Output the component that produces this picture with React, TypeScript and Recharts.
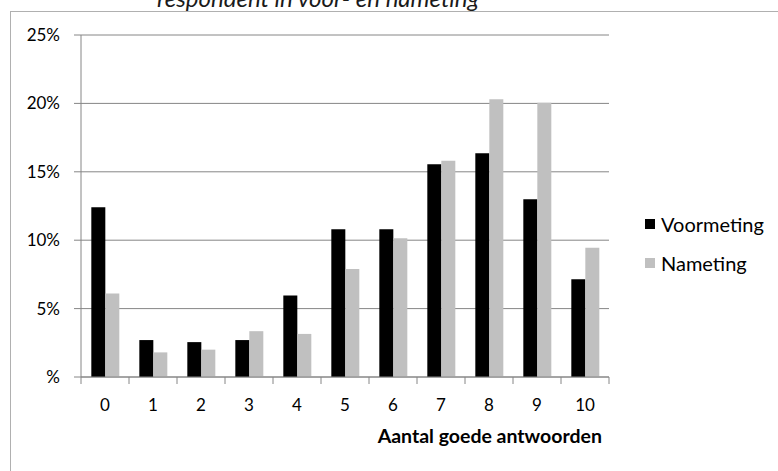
import React from 'react';
import { BarChart, Bar, XAxis, YAxis, CartesianGrid, Legend, Label } from 'recharts';

// Aantal goede antwoorden (0 t/m 10)
const CATEGORIES = ['0', '1', '2', '3', '4', '5', '6', '7', '8', '9', '10'];
// Percentage respondenten per score
const VOORMETING = [12.4, 2.7, 2.55, 2.7, 5.95, 10.8, 10.8, 15.55, 16.35, 13.0, 7.15];
const NAMETING = [6.1, 1.8, 2.0, 3.35, 3.15, 7.9, 10.15, 15.8, 20.3, 20.05, 9.45];
const Y_TICKS = [0, 5, 10, 15, 20, 25];

const SERIES = [
  { key: 'voormeting', name: 'Voormeting', color: '#000000' },
  { key: 'nameting', name: 'Nameting', color: '#c0c0c0' },
];

const FONT = 'Lato, "Open Sans", sans-serif';
const AXIS_GRAY = '#868686';

const data = CATEGORIES.map((c, i) => ({
  score: c,
  voormeting: VOORMETING[i],
  nameting: NAMETING[i],
}));

// category axis with tick marks on the band edges instead of the centres
const CategoryTick = (props: any) => {
  const { x, y, payload, index } = props;
  const half = payload && payload.offset ? payload.offset : 24;
  const last = index === CATEGORIES.length - 1;
  return (
    <g>
      <line x1={x - half} y1={y} x2={x - half} y2={y + 7} stroke={AXIS_GRAY} />
      {last && <line x1={x + half} y1={y} x2={x + half} y2={y + 7} stroke={AXIS_GRAY} />}
      <text x={x} y={y + 28} dy="0.355em" textAnchor="middle" fontFamily={FONT} fontSize={17} fill="#000">
        {payload.value}
      </text>
    </g>
  );
};

const LegendBox = () => (
  <div style={{ fontFamily: FONT, fontSize: 20, color: '#000' }}>
    {SERIES.map((s) => (
      <div key={s.key} style={{ display: 'flex', alignItems: 'center', height: 39 }}>
        <span style={{ width: 10, height: 10, background: s.color, marginRight: 6, display: 'inline-block' }} />
        <span>{s.name}</span>
      </div>
    ))}
  </div>
);

const App: React.FC = () => {
  return (
    <div style={{ position: 'absolute', left: 0, top: 0, width: 778, height: 471, overflow: 'hidden', background: '#fff' }}>
      {/* chart area frame, runs off the right and bottom edge */}
      <div style={{ position: 'absolute', left: 10, top: 11, width: 800, height: 500, border: '1px solid #b0b0b0' }} />
      <div
        style={{
          position: 'absolute',
          left: 157,
          top: -17,
          fontFamily: FONT,
          fontStyle: 'italic',
          fontSize: 24,
          color: '#1a1a1a',
          whiteSpace: 'nowrap',
          lineHeight: '29px',
        }}
      >
        respondent in voor- en nameting
      </div>
      <div style={{ position: 'absolute', left: 0, top: 0 }}>
        <BarChart
          width={778}
          height={471}
          data={data}
          margin={{ top: 35, right: 169, left: 0, bottom: 34 }}
          barCategoryGap="21.5%"
          barGap={0}
        >
          <CartesianGrid horizontal vertical={false} stroke={AXIS_GRAY} />
          <XAxis
            dataKey="score"
            height={60}
            axisLine={{ stroke: AXIS_GRAY }}
            tickLine={false}
            tickSize={0}
            tickMargin={0}
            tick={<CategoryTick />}
            interval={0}
          >
            <Label
              value="Aantal goede antwoorden"
              position="insideBottomRight"
              offset={0}
              content={(p: any) => {
                const vb = p.viewBox || {};
                return (
                  <text
                    x={vb.x + vb.width - 7}
                    y={vb.y + 66}
                    textAnchor="end"
                    fontFamily={FONT}
                    fontWeight="bold"
                    fontSize={19.5}
                    fill="#000"
                  >
                    Aantal goede antwoorden
                  </text>
                );
              }}
            />
          </XAxis>
          <YAxis
            width={81}
            domain={[0, 25]}
            ticks={Y_TICKS}
            interval={0}
            axisLine={{ stroke: AXIS_GRAY }}
            tickLine={{ stroke: AXIS_GRAY }}
            tickSize={7}
            tickMargin={14}
            tick={{ fontFamily: FONT, fontSize: 17, fill: '#000' }}
            tickFormatter={(v: number) => (v === 0 ? '%' : `${v}%`)}
          />
          <Legend
            layout="horizontal"
            verticalAlign="middle"
            align="center"
            content={<LegendBox />}
            wrapperStyle={{ left: 645, top: 204, width: 'auto' }}
          />
          {SERIES.map((s) => (
            <Bar key={s.key} dataKey={s.key} name={s.name} fill={s.color} isAnimationActive={false} />
          ))}
        </BarChart>
      </div>
    </div>
  );
};

export default App;
